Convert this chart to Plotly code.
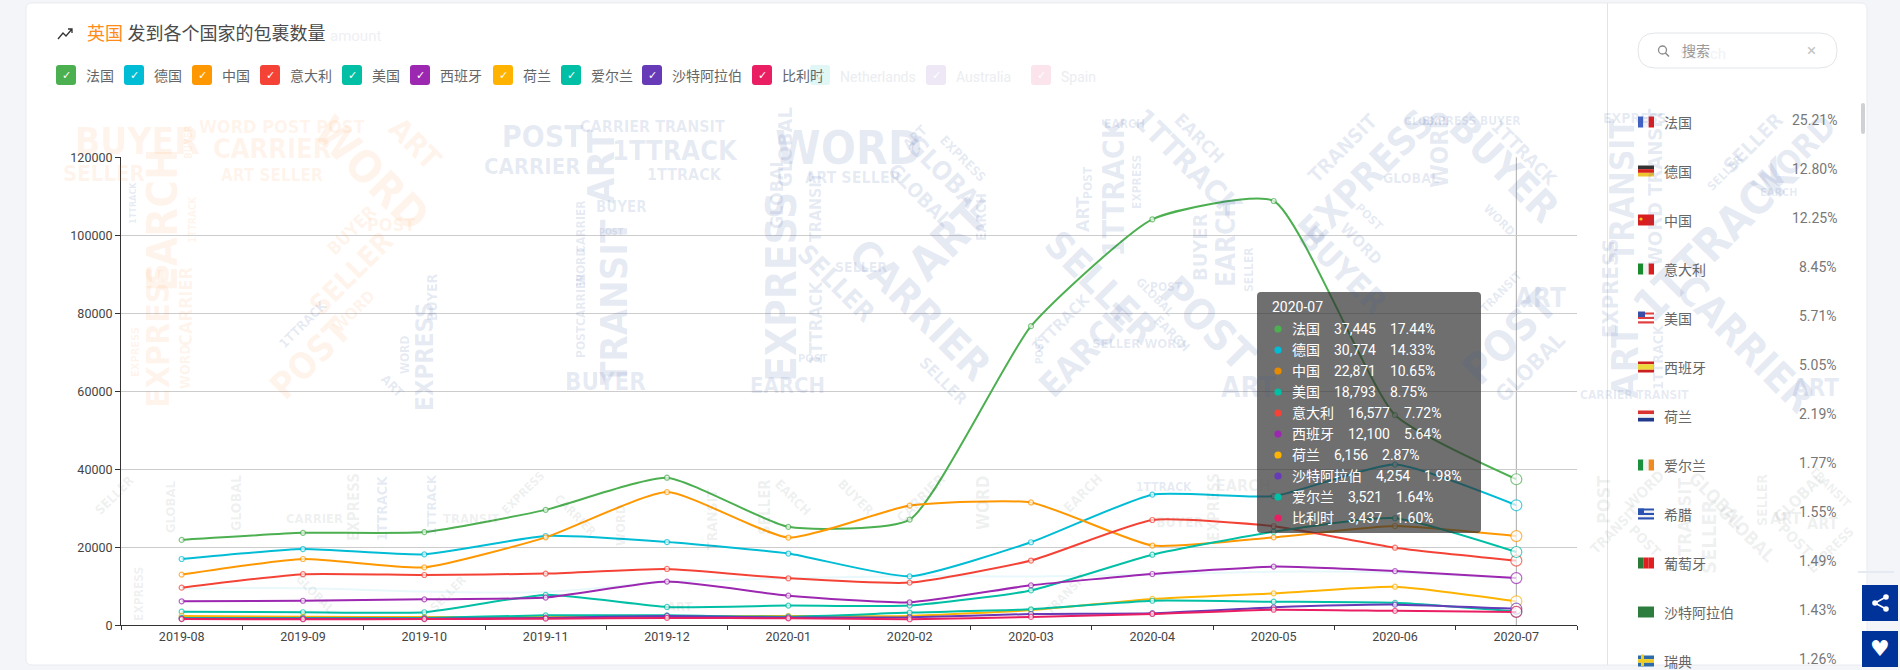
import plotly.graph_objects as go

W = 1900
H = 670

months = ["2019-08", "2019-09", "2019-10", "2019-11", "2019-12", "2020-01",
          "2020-02", "2020-03", "2020-04", "2020-05", "2020-06", "2020-07"]

# values per country
france = [21900, 23700, 23900, 29600, 37850, 25250, 27100, 76700, 104100, 108800, 53900, 37445]
germany = [17000, 19550, 18200, 22900, 21350, 18400, 12550, 21300, 33500, 33100, 41200, 30774]
china = [13000, 17000, 14850, 22550, 34150, 22500, 30700, 31500, 20450, 22550, 25450, 22871]
italy = [9650, 13100, 12900, 13250, 14450, 12050, 10950, 16600, 27000, 25400, 19900, 16577]
usa = [3500, 3350, 3350, 7800, 4700, 5050, 5050, 8950, 18100, 24000, 27450, 18793]
spain = [6150, 6300, 6650, 7100, 11200, 7600, 5900, 10250, 13150, 15050, 13900, 12100]
netherlands = [2400, 2200, 2100, 2100, 2200, 2400, 2400, 3900, 6750, 8200, 9900, 6156]
ireland = [1900, 1900, 1900, 2550, 2550, 2200, 3250, 4100, 6300, 6050, 5750, 3521]
saudi = [1700, 1700, 1700, 1900, 2400, 2000, 2050, 2900, 3100, 4600, 5300, 4254]
belgium = [1600, 1550, 1600, 1700, 1900, 1800, 1550, 2150, 2900, 4000, 3700, 3437]
faint_line = [9400, 9500, 8650, 8550, 11100, 12050, 12600, 12500, 13000, 13750, 13500, 12000]

legend_names = ["法国", "德国", "中国", "意大利", "美国", "西班牙", "荷兰", "爱尔兰", "沙特阿拉伯", "比利时"]
colors = ["#4caf50", "#00bcd4", "#ff9800", "#f44336", "#00bfa5", "#9c27b0", "#ffb300", "#00bfa5", "#673ab7", "#e91e63"]
series = [france, germany, china, italy, usa, spain, netherlands, ireland, saudi, belgium]

# custom legend, left edge of each box
legend_x = [56, 124, 192, 260, 342, 410, 493, 561, 642, 752]

# tooltip
tip_names = ["法国", "德国", "中国", "美国", "意大利", "西班牙", "荷兰", "沙特阿拉伯", "爱尔兰", "比利时"]
tip_values = ["37,445", "30,774", "22,871", "18,793", "16,577", "12,100", "6,156", "4,254", "3,521", "3,437"]
tip_pcts = ["17.44%", "14.33%", "10.65%", "8.75%", "7.72%", "5.64%", "2.87%", "1.98%", "1.64%", "1.60%"]
tip_colors = ["#4caf50", "#00bcd4", "#e68a00", "#00bfa5", "#f44336", "#9c27b0", "#ffb300", "#673ab7", "#00bfa5", "#e91e63"]

# right hand list
side_names = ["法国", "德国", "中国", "意大利", "美国", "西班牙", "荷兰", "爱尔兰", "希腊", "葡萄牙", "沙特阿拉伯", "瑞典"]
side_pcts = ["25.21%", "12.80%", "12.25%", "8.45%", "5.71%", "5.05%", "2.19%", "1.77%", "1.55%", "1.49%", "1.43%", "1.26%"]
side_flags = [
    ("v", ["#3f62c4", "#f1f1f6", "#e01a1a"]),
    ("h", ["#333333", "#d8201c", "#eec431"]),
    ("h", ["#d81e1e"]),
    ("v", ["#1a8a2e", "#f1f1f1", "#d81e1e"]),
    ("h", ["#e04040", "#ffffff", "#e04040", "#ffffff", "#e04040"]),
    ("h", ["#cc2020", "#ecd93a", "#ecd93a", "#cc2020"]),
    ("h", ["#d93030", "#f2f2f2", "#1f3a8c"]),
    ("v", ["#1a8f3c", "#f2f2f2", "#f08a24"]),
    ("h", ["#2a52b0", "#f2f2f2", "#2a52b0", "#f2f2f2", "#2a52b0"]),
    ("v", ["#2b7a35", "#e02020", "#e02020"]),
    ("h", ["#2d7d3e"]),
    ("h", ["#2c6aa8", "#f0cc20", "#2c6aa8"]),
]

BLUE = "rgba(60,90,165,0.13)"
ORNG = "rgba(255,140,50,0.10)"
GREY = "rgba(90,95,105,0.10)"

# word, x, y, size, angle, colour
watermark = [
    # orange block
    ("BUYER", 137, 142, 37, 0, ORNG), ("SELLER", 104, 173, 22, 0, ORNG), ("EARCH", 162, 220, 42, -90, ORNG),
    ("EXPRESS", 158, 336, 32, -90, ORNG), ("CARRIER", 185, 307, 18, -90, ORNG), ("WORD", 185, 367, 14, -90, ORNG),
    ("EXPRESS", 135, 352, 11, -90, ORNG), ("1TTRACK", 133, 203, 9, -90, BLUE), ("1TTRACK", 192, 220, 10, -90, ORNG),
    ("BUYER", 189, 142, 10, -90, ORNG), ("WORD POST POST", 282, 126, 18, 0, ORNG), ("CARRIER", 272, 148, 27, 0, ORNG),
    ("ART SELLER", 272, 175, 17, 0, ORNG), ("WORD", 372, 173, 44, 45, ORNG), ("ART", 415, 143, 30, 45, ORNG),
    ("BUYER", 351, 230, 18, -45, ORNG), ("POST", 391, 224, 18, 0, ORNG), ("SELLER", 351, 273, 28, -45, ORNG),
    ("WORD", 354, 312, 16, -45, ORNG), ("POST", 310, 358, 36, -45, ORNG), ("1TTRACK", 303, 325, 13, -45, BLUE),
    # blue blocks
    ("BUYER", 432, 297, 14, -90, BLUE), ("EXPRESS", 425, 357, 24, -90, BLUE), ("WORD", 405, 355, 12, -90, BLUE),
    ("ART", 392, 385, 13, 45, BLUE), ("POST", 542, 137, 30, 0, BLUE), ("CARRIER", 532, 167, 22, 0, BLUE),
    ("CARRIER TRANSIT", 652, 126, 16, 0, BLUE), ("1TTRACK", 675, 150, 27, 0, BLUE), ("1TTRACK", 684, 175, 16, 0, BLUE),
    ("ART", 601, 167, 38, -90, BLUE), ("BUYER", 621, 207, 15, 0, BLUE), ("TRANSIT", 614, 302, 38, -90, BLUE),
    ("CARRIER", 581, 227, 12, -90, BLUE), ("WORD", 581, 267, 12, -90, BLUE), ("CARRIER", 581, 300, 12, -90, BLUE),
    ("POST", 581, 342, 12, -90, BLUE), ("BUYER", 605, 382, 24, 0, BLUE), ("POST", 611, 232, 9, 0, BLUE),
    ("GLOBAL", 785, 147, 20, -90, BLUE), ("GLOBAL", 777, 193, 18, -90, BLUE), ("EXPRESS", 782, 287, 42, -90, BLUE),
    ("EARCH", 787, 385, 22, 0, BLUE), ("1TTRACK", 815, 323, 18, -90, BLUE), ("TRANSIT", 815, 207, 16, -90, BLUE),
    ("POST", 813, 358, 11, 0, BLUE), ("WORD", 848, 148, 46, 0, BLUE), ("ART SELLER", 853, 178, 16, 0, BLUE),
    ("GLOBAL", 948, 177, 26, 45, BLUE), ("GLOBAL", 920, 195, 20, 45, BLUE), ("ART", 915, 137, 14, -45, BLUE),
    ("EXPRESS", 963, 158, 13, 45, BLUE), ("ART", 948, 240, 46, -45, BLUE), ("CARRIER", 920, 310, 41, 45, BLUE),
    ("SELLER", 836, 283, 26, 45, BLUE), ("SELLER", 861, 267, 14, 0, BLUE), ("EARCH", 981, 217, 14, -90, BLUE),
    ("SELLER", 943, 380, 16, 45, BLUE), ("EARCH", 1124, 124, 12, 0, BLUE), ("1TTRACK", 1114, 187, 30, -90, BLUE),
    ("ART", 1083, 215, 18, -90, BLUE), ("POST", 1088, 183, 12, -90, BLUE), ("EXPRESS", 1137, 182, 12, -90, BLUE),
    ("1TTRACK", 1188, 163, 30, 45, BLUE), ("EARCH", 1200, 138, 18, 45, BLUE), ("EARCH", 1226, 243, 26, -90, BLUE),
    ("BUYER", 1200, 247, 20, -90, BLUE), ("SELLER", 1249, 270, 12, -90, BLUE), ("SELLER", 1101, 287, 38, 45, BLUE),
    ("1TTRACK", 1060, 323, 16, -45, BLUE), ("EARCH", 1086, 350, 34, -45, BLUE), ("SELLER WORD", 1139, 343, 13, 0, BLUE),
    ("POST", 1208, 323, 42, 45, BLUE), ("EARCH", 1172, 333, 13, 45, BLUE), ("POST", 1166, 287, 12, 0, BLUE),
    ("GLOBAL", 1155, 297, 12, 45, BLUE), ("ART", 1249, 387, 28, 0, BLUE), ("POST", 1040, 350, 10, -90, BLUE),
    ("TRANSIT", 1343, 148, 20, -45, BLUE), ("EXPRESS", 1366, 177, 38, -45, BLUE), ("WORD", 1440, 150, 24, -90, BLUE),
    ("GLOBAL", 1411, 178, 14, 0, BLUE), ("EXPRESS BUYER", 1471, 121, 12, 0, BLUE), ("GLOBAL", 1426, 121, 11, 0, BLUE),
    ("BUYER", 1504, 167, 40, 45, BLUE), ("1TTRACK", 1524, 153, 18, 45, BLUE), ("BUYER", 1343, 270, 32, 45, BLUE),
    ("WORD", 1361, 243, 16, 45, BLUE), ("POST", 1369, 217, 12, 45, BLUE), ("WORD", 1499, 220, 12, 45, BLUE),
    ("ART", 1540, 298, 26, 0, BLUE), ("POST", 1509, 337, 42, -45, BLUE), ("GLOBAL", 1530, 367, 22, -45, BLUE),
    ("TRANSIT", 1501, 292, 12, -45, BLUE),
    # right panel
    ("EXPRESS", 1634, 118, 14, 0, BLUE), ("TRANSIT", 1623, 190, 33, -90, BLUE), ("WORD TRANSIT", 1655, 187, 20, -90, BLUE),
    ("SELLER", 1753, 143, 20, -45, BLUE), ("SELLER", 1725, 173, 12, -45, BLUE), ("1TTRACK", 1716, 240, 45, -45, BLUE),
    ("WORD", 1794, 157, 32, -45, BLUE), ("EARCH", 1779, 193, 11, 0, BLUE), ("EXPRESS", 1610, 288, 22, -90, BLUE),
    ("ART", 1625, 362, 38, -90, BLUE), ("CARRIER TRANSIT", 1634, 395, 12, 0, BLUE), ("CARRIER", 1745, 343, 40, 45, BLUE),
    ("ART", 1815, 388, 24, 0, BLUE), ("1TTRACK", 1658, 357, 14, -90, BLUE),
    ("POST", 1603, 500, 18, -90, GREY), ("TRANSIT", 1614, 530, 14, -45, GREY), ("POST", 1645, 541, 14, 45, GREY),
    ("WORD", 1645, 490, 15, -45, GREY), ("TRANSIT", 1684, 517, 18, -90, GREY), ("SELLER", 1709, 537, 20, -90, GREY),
    ("GLOBAL", 1718, 500, 18, 45, GREY), ("GLOBAL", 1747, 533, 18, 45, GREY), ("SELLER", 1762, 500, 14, -90, GREY),
    ("GLOBAL", 1799, 497, 16, -45, GREY), ("ART", 1786, 518, 16, 0, GREY), ("ART", 1823, 523, 16, 0, GREY),
    ("POST", 1795, 540, 15, 45, GREY), ("EXPRESS", 1830, 550, 13, -45, GREY), ("TRANSIT", 1830, 487, 12, 45, GREY),
    # lower band of the chart
    ("SELLER", 114, 495, 13, -45, GREY), ("GLOBAL", 170, 507, 13, -90, GREY), ("GLOBAL", 236, 503, 14, -90, GREY),
    ("CARRIER", 314, 518, 13, 0, GREY), ("EXPRESS", 354, 507, 15, -90, GREY), ("1TTRACK", 382, 508, 14, -90, BLUE),
    ("1TTRACK", 432, 505, 13, -90, BLUE), ("TRANSIT", 471, 518, 13, 0, GREY), ("EXPRESS", 523, 493, 12, -45, GREY),
    ("CARRIER", 575, 515, 12, 45, GREY), ("WORD", 620, 525, 13, -90, GREY), ("TRANSIT", 712, 520, 14, -90, GREY),
    ("SELLER", 765, 507, 15, -90, GREY), ("EARCH", 793, 497, 13, 45, GREY), ("BUYER", 856, 497, 13, 45, GREY),
    ("CARRIER", 921, 498, 14, -45, GREY), ("WORD", 983, 503, 17, -90, GREY), ("EARCH", 1083, 493, 14, -45, GREY),
    ("1TTRACK", 1164, 487, 12, 0, BLUE), ("EXPRESS", 1214, 507, 15, -90, GREY), ("EARCH", 1243, 485, 16, 0, GREY),
    ("BUYER", 1180, 522, 14, 0, GREY), ("EXPRESS", 139, 594, 12, -90, GREY), ("GLOBAL", 315, 594, 12, 45, GREY),
    ("SELLER", 448, 594, 12, -45, GREY), ("ART", 679, 606, 13, 0, GREY), ("TRANSIT", 1066, 594, 12, -45, GREY),
]


def px(x):
    return x / W


def py(y):
    return 1 - y / H


def rrect(x0, y0, x1, y1, r):
    return (f"M{px(x0 + r)},{py(y0)} L{px(x1 - r)},{py(y0)} Q{px(x1)},{py(y0)} {px(x1)},{py(y0 + r)} "
            f"L{px(x1)},{py(y1 - r)} Q{px(x1)},{py(y1)} {px(x1 - r)},{py(y1)} L{px(x0 + r)},{py(y1)} "
            f"Q{px(x0)},{py(y1)} {px(x0)},{py(y1 - r)} L{px(x0)},{py(y0 + r)} Q{px(x0)},{py(y0)} {px(x0 + r)},{py(y0)} Z")


def box(x0, y0, x1, y1, fill, layer="below", line=None, lw=0):
    return dict(type="rect", xref="paper", yref="paper", x0=px(x0), x1=px(x1), y0=py(y1), y1=py(y0),
                fillcolor=fill, line=dict(color=line, width=lw), layer=layer)


def round_box(x0, y0, x1, y1, r, fill, layer="below", line=None, lw=0):
    return dict(type="path", xref="paper", yref="paper", path=rrect(x0, y0, x1, y1, r), fillcolor=fill,
                line=dict(color=line, width=lw), layer=layer)


def seg(x0, y0, x1, y1, color, lw=1, layer="below"):
    return dict(type="line", xref="paper", yref="paper", x0=px(x0), x1=px(x1), y0=py(y0), y1=py(y1),
                line=dict(color=color, width=lw), layer=layer)


def dot(x, y, r, fill, layer="above", line=None, lw=0):
    return dict(type="circle", xref="paper", yref="paper", x0=px(x - r), x1=px(x + r), y0=py(y + r), y1=py(y - r),
                fillcolor=fill, line=dict(color=line, width=lw), layer=layer)


def label(text, x, y, size=14, color="#666666", anchor="left", angle=0, family="Roboto, Noto Sans CJK SC"):
    return dict(text=text, xref="paper", yref="paper", x=px(x), y=py(y), xanchor=anchor, yanchor="middle",
                showarrow=False, textangle=angle, font=dict(size=size, color=color, family=family),
                borderpad=0, borderwidth=0)


shapes = []
annotations = []

# page and card
shapes.append(box(0, 0, W, H, "#f3f5f8"))
shapes.append(round_box(26, 3, 1867, 665, 6, "#ffffff", line="#e9ebef", lw=1))
shapes.append(seg(1607.5, 3, 1607.5, 665, "#e2e4e8"))
shapes.append(seg(1858, 572, 1894, 572, "#e6eaf3", 2))

# watermark sits over everything because annotations do, so it is kept see-through
for word, wx, wy, size, angle, col in watermark:
    annotations.append(label("<b>" + word + "</b>", wx, wy, size=size, color=col, anchor="center", angle=angle,
                             family="Liberation Sans Narrow, DejaVu Sans Condensed, sans-serif"))

# title
shapes.append(dict(type="path", xref="paper", yref="paper", layer="below",
                   path=f"M{px(58)},{py(39)} L{px(63)},{py(33)} L{px(66)},{py(36)} L{px(72)},{py(29)} "
                        f"M{px(68)},{py(29)} L{px(72)},{py(29)} L{px(72)},{py(33)}",
                   line=dict(color="#333333", width=1.3)))
annotations.append(label('<span style="color:#ff8c1a">英国</span> 发到各个国家的包裹数量', 87, 33, size=18, color="#4a4a4a"))
annotations.append(label("amount", 330, 36, size=15, color="#eef0f4"))

# legend boxes
for name, col, lx in zip(legend_names, colors, legend_x):
    shapes.append(round_box(lx, 65, lx + 20, 85, 3, col))
    annotations.append(label("✓", lx + 10, 75, size=11, color="#ffffff", anchor="center", family="DejaVu Sans"))
    annotations.append(label(name, lx + 30, 76, size=14))

# washed out entries behind the legend
for name, col, lx in [("Netherlands", "#e0f7f5", 810), ("Australia", "#ede7f6", 926), ("Spain", "#fce4ec", 1031)]:
    shapes.append(round_box(lx, 65, lx + 20, 85, 3, col))
    annotations.append(label("✓", lx + 10, 75, size=11, color="#ffffff", anchor="center", family="DejaVu Sans"))
    annotations.append(label(name, lx + 30, 77, size=14, color="#ebedf0"))

# search box
shapes.append(round_box(1638, 33, 1837, 68, 17.5, "#ffffff", line="#e3e5e8", lw=1))
shapes.append(dot(1662.5, 50, 4, "rgba(0,0,0,0)", layer="below", line="#8a8a8a", lw=1.3))
shapes.append(seg(1665.5, 53, 1669, 56.5, "#8a8a8a", 1.5))
annotations.append(label("Search", 1680, 54, size=15, color="#f1f2f5"))
annotations.append(label("搜索", 1682, 51, size=14, color="#999999"))
annotations.append(label("×", 1811, 50, size=17, color="#c4c4c4", anchor="center"))

# scrollbar
shapes.append(round_box(1861, 103, 1865, 134, 2, "#cfd1d4"))

# country list
for i, (name, pct, flag) in enumerate(zip(side_names, side_pcts, side_flags)):
    ry = 122 + 49 * i
    top = ry - 5.5
    kind, stripes = flag
    for k, col in enumerate(stripes):
        if kind == "v":
            shapes.append(box(1638 + 16 * k / len(stripes), top, 1638 + 16 * (k + 1) / len(stripes), top + 11, col))
        else:
            shapes.append(box(1638, top + 11 * k / len(stripes), 1654, top + 11 * (k + 1) / len(stripes), col))
    annotations.append(label(name, 1664, ry + 0.5, size=14))
    annotations.append(label(pct, 1837, ry - 2, size=14, color="#777777", anchor="right"))
shapes.append(dot(1641, 219, 1.6, "#f5d020", layer="below"))                 # china star
shapes.append(box(1638, 311.5, 1645, 317, "#3a4fa8"))                        # usa canton
shapes.append(box(1641, 654.5, 1644, 666, "#f0cc20"))                        # sweden cross
shapes.append(box(1638, 508.5, 1644, 514, "#2a52b0"))                        # greece canton

# share and like buttons
shapes.append(box(1862, 585, 1898, 621, "#003399"))
shapes.append(box(1862, 631, 1898, 667, "#003399"))
shapes.append(seg(1886, 597, 1875, 603, "#ffffff", 1.6, layer="below"))
shapes.append(seg(1875, 603, 1886, 609, "#ffffff", 1.6, layer="below"))
for sx, sy in [(1886, 597), (1875, 603), (1886, 609)]:
    shapes.append(dot(sx, sy, 2.8, "#ffffff", layer="below"))
annotations.append(label("♥", 1880, 648, size=22, color="#ffffff", anchor="center", family="DejaVu Sans"))

# pointer line
shapes.append(dict(type="line", xref="x", yref="paper", x0=months[-1], x1=months[-1],
                   y0=py(625.3), y1=py(157.3), line=dict(color="#aaaaaa", width=1), layer="below"))

# tooltip
shapes.append(round_box(1257, 292, 1481, 533, 4, "rgba(50,50,50,0.7)", layer="above"))
annotations.append(label(months[-1], 1272, 307, size=14, color="#ffffff"))
for i, (name, val, pct, col) in enumerate(zip(tip_names, tip_values, tip_pcts, tip_colors)):
    ry = 329 + 21 * i
    shapes.append(dot(1278, ry, 3.6, col))
    gap = "\u00a0" * 4
    annotations.append(label(name + gap + val + gap + pct, 1291.5, ry, size=14, color="#ffffff"))

fig = go.Figure()

fig.add_trace(go.Scatter(x=months, y=faint_line, mode="lines", line=dict(color="#e8f8fb", width=2, shape="spline"),
                         hoverinfo="skip"))

for name, vals, col in zip(legend_names, series, colors):
    fig.add_trace(go.Scatter(
        name=name, x=months, y=vals, mode="lines+markers",
        line=dict(color=col, width=2, shape="spline", smoothing=0.5),
        marker=dict(size=[5] * (len(months) - 1) + [11], color="#ffffff", line=dict(color=col, width=1.2)),
    ))

fig.update_layout(
    width=W, height=H, margin=dict(l=0, r=0, t=0, b=0, autoexpand=False),
    paper_bgcolor="#ffffff", plot_bgcolor="rgba(0,0,0,0)", showlegend=False,
    font=dict(family="Roboto, Noto Sans CJK SC", color="#444444"),
    shapes=shapes, annotations=annotations,
    xaxis=dict(domain=[px(121), px(1577)], type="category", range=[-0.5, 11.5], tickson="boundaries",
               ticks="outside", ticklen=4, tickcolor="#333333", showgrid=False, showline=True, linecolor="#333333",
               linewidth=1, tickfont=dict(size=12.5, color="#444444"), zeroline=False),
    yaxis=dict(domain=[py(625.3), py(157.3)], range=[0, 120000], dtick=20000, tickformat="d", ticks="outside",
               ticklen=5, tickcolor="#333333", showline=True, linecolor="#333333", linewidth=1,
               gridcolor="#cccccc", gridwidth=1, zeroline=False, tickfont=dict(size=12.5, color="#444444")),
)

fig.write_html("out.html", config=dict(displayModeBar=False),
               post_script="document.body.style.margin='0';document.body.style.overflow='hidden';")
